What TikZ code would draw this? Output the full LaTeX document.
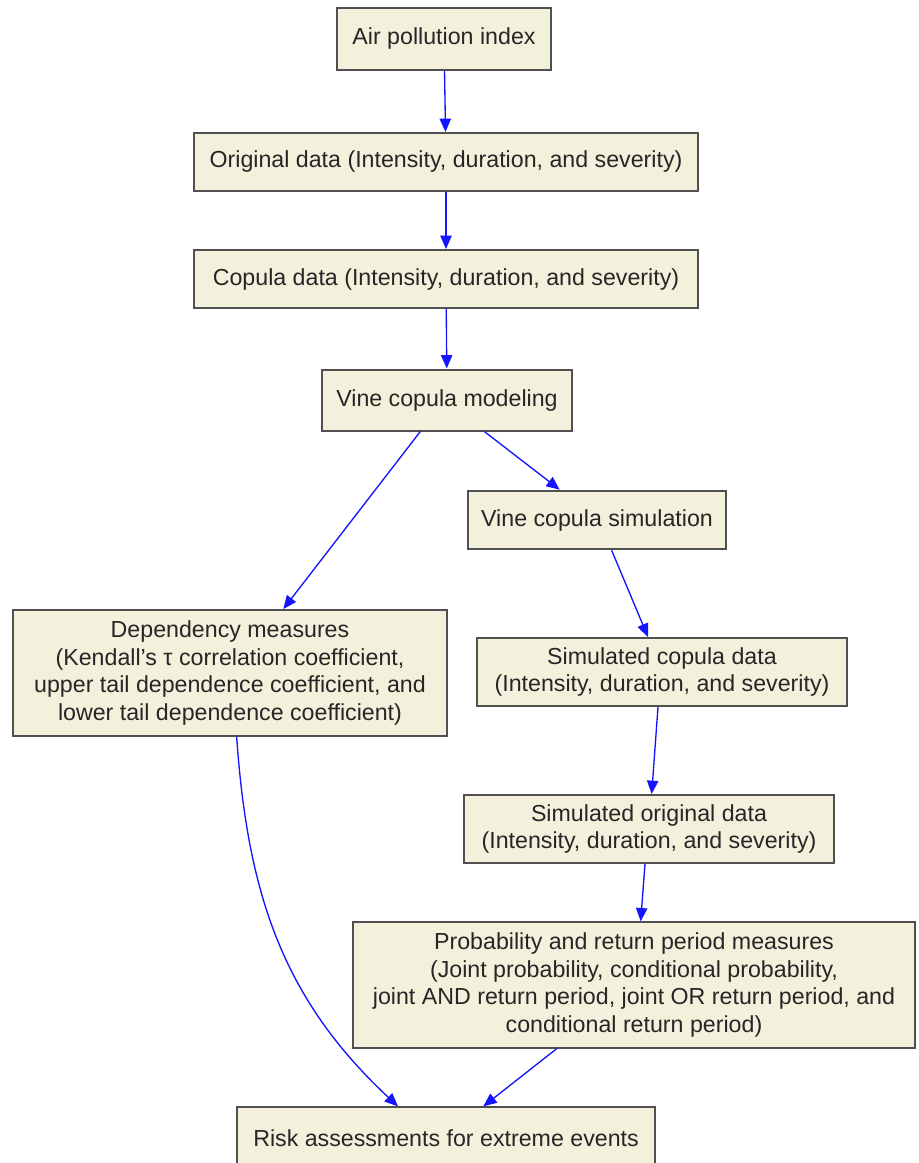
\documentclass[tikz,border=0pt]{standalone}
\usepackage{fontspec}
\setmainfont{Liberation Sans}
\usetikzlibrary{positioning,arrows.meta}

\definecolor{boxfill}{RGB}{243,241,220}
\definecolor{boxline}{RGB}{80,80,80}
\definecolor{arrblue}{RGB}{20,20,255}

\begin{document}
\begin{tikzpicture}[
  x=0.75pt, y=-0.75pt,
  st/.style={draw=boxline, line width=1.5pt, fill=boxfill, rectangle,
             inner sep=0pt, align=center, text=black!85,
             font=\fontsize{17.4}{20.8}\selectfont},
  arr/.style={-{Triangle[length=10pt,width=8.5pt]}, draw=arrblue,
              line width=1pt}
]
\useasboundingbox (0,0) rectangle (918,1163);

%% ── nodes ───────────────────────────────────────────────────────────────
\node[st, minimum width=160.5pt, minimum height=46.5pt] (air)  at (444, 39)
  {Air pollution index};
\node[st, minimum width=378pt, minimum height=43.5pt]   (orig) at (446,162)
  {Original data (Intensity, duration, and severity)};
\node[st, minimum width=378pt, minimum height=43.5pt]   (cop)  at (446,279)
  {Copula data (Intensity, duration, and severity)};
\node[st, minimum width=187.5pt, minimum height=45.75pt] (vine) at (447,400)
  {Vine copula modeling};

%% Simulation branch (right column)
\node[st, minimum width=194pt, minimum height=44pt]     (sim)  at (597,520)
  {Vine copula simulation};
\node[st, minimum width=278pt, minimum height=51pt]     (scop) at (662,672)
  {Simulated copula data\\ (Intensity, duration, and severity)};
\node[st, minimum width=278pt, minimum height=51pt]     (sorig) at (649,829)
  {Simulated original data\\ (Intensity, duration, and severity)};
\node[st, minimum width=422pt, minimum height=94pt]     (prob) at (634,985)
  {Probability and return period measures\\
   (Joint probability, conditional probability,\\
   joint AND return period, joint OR return period, and\\
   conditional return period)};

%% Dependency branch (left column)
\node[st, minimum width=325.5pt, minimum height=94.5pt] (dep)  at (230,673)
  {Dependency measures\\
   (Kendall’s τ correlation coefficient,\\
   upper tail dependence coefficient, and\\
   lower tail dependence coefficient)};

%% Convergence point
\node[st, minimum width=314pt, minimum height=46pt]     (risk) at (446,1138)
  {Risk assessments for extreme events};

%% ── edges ───────────────────────────────────────────────────────────────
\draw[arr] (air)  -- (orig);
\draw[arr] (orig) -- (cop);
\draw[arr] (cop)  -- (vine);

% split after modeling
\draw[arr] ([xshift=-20pt]vine.south) -- ([xshift=40pt]dep.north);
\draw[arr] ([xshift=28pt]vine.south)  -- ([xshift=-28pt]sim.north);

%% ─── Simulation chain ───────────────────────────────────────────────────
\draw[arr] ([xshift=11pt]sim.south)   -- ([xshift=-10.5pt]scop.north);
\draw[arr] ([xshift=-3pt]scop.south)  -- ([xshift=2pt]sorig.north);
\draw[arr] ([xshift=-3pt]sorig.south) -- ([xshift=5pt]prob.north);

%% ─── both branches end in the risk box ──────────────────────────────────
\draw[arr] ([xshift=5pt]dep.south) to[out=-86, in=137] ([xshift=-36pt]risk.north);
\draw[arr] ([xshift=-58pt]prob.south) -- ([xshift=28pt]risk.north);

\end{tikzpicture}
\end{document}
